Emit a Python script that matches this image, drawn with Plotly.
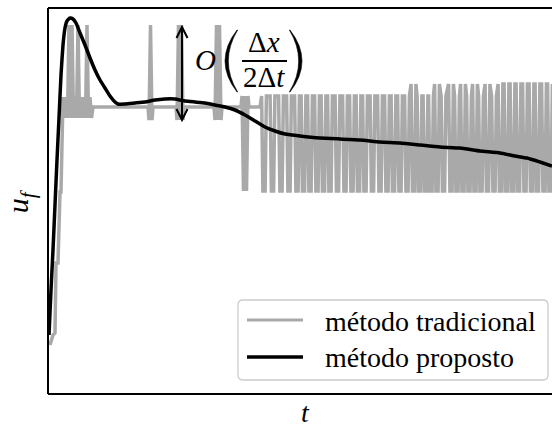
import plotly.graph_objects as go

# ---------------- data (t: time units, u: u_f units) ----------------
# traditional method: explicit vertices of the early part
trad_t = [2, 5, 7, 8, 10, 12, 13, 15,
          16.5, 18, 19.5, 21, 22.5, 24, 25.5, 27, 28.5, 30, 31.5, 33, 34.5, 36, 37.5,
          39, 40.5, 42, 43.5, 45,
          100, 101, 102.5, 104, 105,
          128, 129, 130.5, 132, 133.5, 135, 136,
          166, 167, 168.5, 170, 171.5, 173, 174,
          193, 194, 195.5, 197, 198.5, 200, 201, 212]
trad_u = [49, 59, 61, 131, 131, 202, 202, 297,
          276, 297, 276, 369, 276, 369, 276, 297, 276, 369, 276, 297, 276, 297, 276,
          369, 276, 297, 276, 287,
          287, 274, 369, 274, 287,
          287, 274, 369, 274, 369, 274, 287,
          287, 274, 369, 274, 369, 274, 287,
          287, 298, 203, 298, 203, 298, 287, 287]

# traditional method: dense oscillation region (bar positions and their top level)
dense_t = [216, 224.5, 233, 241, 249, 255.5, 262, 269, 275.5, 282, 289.5, 297, 304, 310.5,
           317, 324.5, 332, 339, 345.5, 352, 359, 365.5, 371.5, 377.5, 383, 389, 395.5, 403,
           409, 415, 421, 427, 433, 439.5, 446, 452.5, 458.5, 464.5, 470.5, 477, 483.5,
           489.5, 496, 502]
dense_top = [298, 298, 298, 298, 298, 298, 298, 298, 298, 298, 298, 298, 298, 298,
             298, 298, 298, 298, 298, 298, 298, 310, 298, 298, 298, 310, 298, 310,
             298, 310, 298, 310, 298, 310, 298, 310, 310, 310, 310, 310, 310, 310, 310, 310]
dense_low = 203

# proposed method
prop_t = [1, 3, 5, 7, 9, 11, 13, 15, 17, 19, 22, 25, 28, 32, 37, 42, 47, 52, 57, 62,
          67, 70, 77, 87, 97, 107, 117, 127, 137, 147, 157, 167, 177, 187, 197, 207,
          217, 227, 237, 252, 272, 292, 312, 332, 352, 372, 392, 412, 432, 452, 467,
          479, 492, 504]
prop_u = [59, 104, 144, 189, 234, 276, 319, 349, 366, 373, 376, 375, 371, 361, 349,
          336, 324, 314, 306, 298, 292, 290, 290, 291, 292, 294, 295, 295, 293, 292,
          291, 289, 287, 284, 279, 273, 267, 263, 260, 258, 256, 255, 254, 252, 251,
          249, 247, 246, 243, 241, 238, 236, 232, 228]

legend_labels = ["método tradicional", "método proposto"]

# ---------------- build traditional polyline ----------------
gx = list(trad_t)
gy = list(trad_u)
for c, top in zip(dense_t, dense_top):
    gx += [c - 2.4, c - 1.1, c + 1.1, c + 2.4]
    gy += [top, dense_low, dense_low, top]

GRAY = "#a9a9a9"
FONT = "Liberation Serif"

fig = go.Figure()
fig.add_trace(go.Scatter(x=gx, y=gy, mode="lines", name=legend_labels[0],
                         line=dict(color=GRAY, width=3.5), showlegend=False))
fig.add_trace(go.Scatter(x=prop_t, y=prop_u, mode="lines", name=legend_labels[1],
                         line=dict(color="black", width=3.5, shape="spline", smoothing=0.4),
                         showlegend=False))

shapes = []
# frame (left, top, bottom)
shapes.append(dict(type="line", xref="paper", yref="paper", x0=0, x1=0, y0=0, y1=1,
                   line=dict(color="black", width=2)))
shapes.append(dict(type="line", xref="paper", yref="paper", x0=0, x1=1.02, y0=1, y1=1,
                   line=dict(color="black", width=2)))
shapes.append(dict(type="line", xref="paper", yref="paper", x0=0, x1=1.02, y0=0, y1=0,
                   line=dict(color="black", width=2)))
# double arrow
shapes.append(dict(type="line", x0=134, x1=134, y0=275, y1=366,
                   line=dict(color="black", width=2)))
shapes.append(dict(type="path", path="M 128.5 356 L 134 367 L 139.5 356",
                   line=dict(color="black", width=2)))
shapes.append(dict(type="path", path="M 128.5 285 L 134 274 L 139.5 285",
                   line=dict(color="black", width=2)))
# big parentheses
shapes.append(dict(type="path",
                   path="M 189 364 Q 165 333 189 302 L 189.6 302 Q 171 333 189.6 364 Z",
                   fillcolor="black", line=dict(color="black", width=0.6)))
shapes.append(dict(type="path",
                   path="M 242 364 Q 266 333 242 302 L 241.4 302 Q 260 333 241.4 364 Z",
                   fillcolor="black", line=dict(color="black", width=0.6)))
# fraction bar
shapes.append(dict(type="line", x0=194, x1=239, y0=333, y1=333,
                   line=dict(color="black", width=2)))
# legend box
shapes.append(dict(type="path", layer="above",
                   path="M 195 94 L 495 94 Q 500 94 500 89 L 500 19 Q 500 14 495 14 "
                        "L 195 14 Q 190 14 190 19 L 190 89 Q 190 94 195 94 Z",
                   fillcolor="rgba(255,255,255,0.8)", line=dict(color="#cccccc", width=1.3)))
shapes.append(dict(type="line", layer="above", x0=199, x1=255, y0=74, y1=74,
                   line=dict(color=GRAY, width=3)))
shapes.append(dict(type="line", layer="above", x0=199, x1=255, y0=37, y1=37,
                   line=dict(color="black", width=3.5)))

ann = []
ann.append(dict(x=275, y=73, xref="x", yref="y", text=legend_labels[0], showarrow=False,
                xanchor="left", yanchor="middle", font=dict(family=FONT, size=28, color="black")))
ann.append(dict(x=275, y=37, xref="x", yref="y", text=legend_labels[1], showarrow=False,
                xanchor="left", yanchor="middle", font=dict(family=FONT, size=28, color="black")))
ann.append(dict(x=157, y=334, xref="x", yref="y", text="<i>O</i>", showarrow=False,
                xanchor="center", yanchor="middle", font=dict(family=FONT, size=29, color="black")))
ann.append(dict(x=216, y=352, xref="x", yref="y", text="Δ<i>x</i>", showarrow=False,
                xanchor="center", yanchor="middle", font=dict(family=FONT, size=29, color="black")))
ann.append(dict(x=216, y=317, xref="x", yref="y", text="2Δ<i>t</i>", showarrow=False,
                xanchor="center", yanchor="middle", font=dict(family=FONT, size=29, color="black")))
ann.append(dict(x=-0.055, y=0.5, xref="paper", yref="paper", text="<i>u<sub>f</sub></i>",
                showarrow=False, textangle=-90, xanchor="center", yanchor="middle",
                font=dict(family=FONT, size=30, color="black")))
ann.append(dict(x=0.51, y=-0.048, xref="paper", yref="paper", text="<i>t</i>",
                showarrow=False, xanchor="center", yanchor="middle",
                font=dict(family=FONT, size=28, color="black")))

fig.update_layout(
    width=552, height=430,
    margin=dict(l=48, r=0, t=8, b=36),
    paper_bgcolor="white", plot_bgcolor="white",
    xaxis=dict(range=[0, 504], showgrid=False, zeroline=False, showticklabels=False,
               ticks="", showline=False, fixedrange=True),
    yaxis=dict(range=[0, 386], showgrid=False, zeroline=False, showticklabels=False,
               ticks="", showline=False, fixedrange=True),
    shapes=shapes, annotations=ann, showlegend=False,
)

fig.write_html("out.html")
